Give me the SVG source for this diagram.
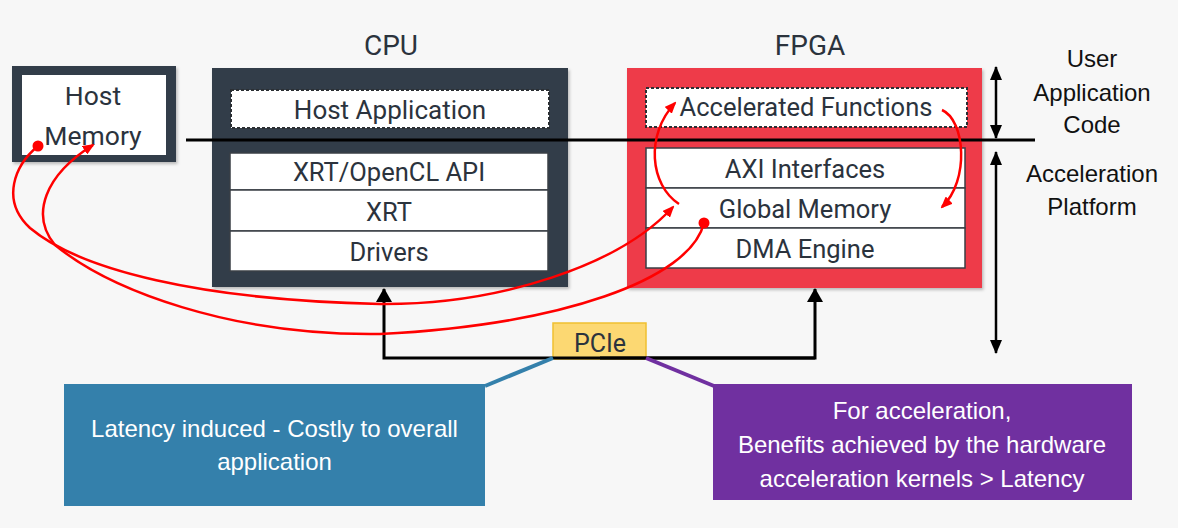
<svg xmlns="http://www.w3.org/2000/svg" width="1178" height="528" viewBox="0 0 1178 528">
<style>
.bg{fill:#f7f7f7}
.lbl{font-family:Roboto,"Liberation Sans",sans-serif;fill:#2b333d;text-anchor:middle}
.cal{font-family:"Liberation Sans",Arial,sans-serif;text-anchor:middle;font-size:24px}
.row{fill:#ffffff;stroke:#3a3f45;stroke-width:1.5}
.dash{fill:#ffffff;stroke:#2b2f33;stroke-width:2;stroke-dasharray:3 2}
.red{fill:none;stroke:#ff0000;stroke-width:2.5}
.blk{fill:none;stroke:#000000;stroke-width:3}
</style>
<defs>
<filter id="sh" x="-5%" y="-5%" width="110%" height="115%">
<feDropShadow dx="1.5" dy="2" stdDeviation="1.5" flood-color="#000" flood-opacity="0.25"/>
</filter>
<marker id="ra" viewBox="0 0 12 10" refX="10" refY="5" markerWidth="12" markerHeight="10" markerUnits="userSpaceOnUse" orient="auto">
<path d="M0,0 L12,5 L0,10 z" fill="#ff0000"/>
</marker>
<marker id="ba" viewBox="0 0 14 16" refX="13" refY="8" markerWidth="14" markerHeight="16" markerUnits="userSpaceOnUse" orient="auto">
<path d="M0,0 L14,8 L0,16 z" fill="#000000"/>
</marker>
<marker id="bas" viewBox="0 0 14 12" refX="13" refY="6" markerWidth="14" markerHeight="12" markerUnits="userSpaceOnUse" orient="auto-start-reverse">
<path d="M0,0 L14,6 L0,12 z" fill="#000000"/>
</marker>
</defs>
<rect class="bg" x="0" y="0" width="1178" height="528"/>

<g id="host-memory">
<rect x="12" y="66" width="164" height="96" fill="#323d48" filter="url(#sh)"/>
<rect x="22" y="75" width="144" height="80" fill="#ffffff"/>
<text class="lbl" x="93" y="105" font-size="26.5" fill="#111">Host</text>
<text class="lbl" x="93" y="145" font-size="26.5" fill="#111">Memory</text>
</g>

<g id="cpu">
<text class="lbl" x="391" y="55" font-size="28">CPU</text>
<rect x="212" y="68" width="356" height="219" fill="#323d48" filter="url(#sh)"/>
<rect class="dash" x="231" y="90" width="318" height="38"/>
<text class="lbl" x="390" y="119" font-size="26">Host Application</text>
<rect class="row" x="230" y="153" width="318" height="37"/>
<text class="lbl" x="389" y="181" font-size="25.5">XRT/OpenCL API</text>
<rect class="row" x="230" y="190" width="318" height="41"/>
<text class="lbl" x="389" y="221" font-size="25.5">XRT</text>
<rect class="row" x="230" y="231" width="318" height="40"/>
<text class="lbl" x="389" y="261" font-size="25.5">Drivers</text>
</g>

<g id="fpga">
<text class="lbl" x="810" y="55" font-size="28">FPGA</text>
<rect x="627" y="68" width="355" height="220" fill="#ee3a4a" filter="url(#sh)"/>
<rect class="dash" x="646" y="88" width="321" height="39"/>
<text class="lbl" x="806" y="116" font-size="25.5">Accelerated Functions</text>
<rect class="row" x="646" y="148" width="319" height="40"/>
<text class="lbl" x="805" y="178" font-size="25.5">AXI Interfaces</text>
<rect class="row" x="646" y="188" width="319" height="40"/>
<text class="lbl" x="805" y="218" font-size="25.5">Global Memory</text>
<rect class="row" x="646" y="228" width="319" height="40"/>
<text class="lbl" x="805" y="258" font-size="25.5">DMA Engine</text>
</g>

<g id="layer-labels">
<text class="cal" x="1092" y="67" fill="#111">User</text>
<text class="cal" x="1092" y="101" fill="#111">Application</text>
<text class="cal" x="1092" y="133" fill="#111">Code</text>
<text class="cal" x="1092" y="182" fill="#111">Acceleration</text>
<text class="cal" x="1092" y="215" fill="#111">Platform</text>
</g>

<g id="pcie">
<rect x="553" y="323" width="93" height="36" fill="#fcd872" stroke="#f0c030" stroke-width="1.5"/>
<text class="lbl" x="600" y="352" font-size="25" fill="#6b5a10">PCIe</text>
</g>

<g id="callout-latency">
<rect x="64" y="384" width="421" height="122" fill="#3480ab"/>
<text class="cal" x="274.5" y="437" fill="#ffffff">Latency induced - Costly to overall</text>
<text class="cal" x="274.5" y="470" fill="#ffffff">application</text>
</g>

<g id="callout-benefit">
<rect x="713" y="384" width="419" height="116" fill="#7030a0"/>
<text class="cal" x="922" y="419" fill="#ffffff">For acceleration,</text>
<text class="cal" x="922" y="453" fill="#ffffff">Benefits achieved by the hardware</text>
<text class="cal" x="922" y="487" fill="#ffffff">acceleration kernels &gt; Latency</text>
</g>

<g id="connectors">
<line class="blk" x1="186" y1="140" x2="1035" y2="140"/>
<line x1="996" y1="67" x2="996" y2="138" stroke="#000" stroke-width="2.5" marker-start="url(#bas)" marker-end="url(#bas)"/>
<line x1="996" y1="152" x2="996" y2="353" stroke="#000" stroke-width="2.5" marker-start="url(#bas)" marker-end="url(#bas)"/>
<path class="blk" d="M815,358 L384,358 L384,289" marker-end="url(#ba)"/>
<path class="blk" d="M600,358 L815,358 L815,289" marker-end="url(#ba)"/>
<line x1="553" y1="358" x2="485" y2="386" stroke="#3480ab" stroke-width="4"/>
<line x1="646" y1="358" x2="714" y2="386" stroke="#7030a0" stroke-width="4"/>
<path class="red" d="M38,146 C15,165 0,200 30,228 C80,270 200,300 380,304 C500,305 620,265 673,207" marker-end="url(#ra)"/>
<path class="red" d="M704,223 C690,280 560,325 380,334 C230,336 110,290 55,245 C30,215 45,175 93,145" marker-end="url(#ra)"/>
<path class="red" d="M679,204 C650,185 645,135 675,103" marker-end="url(#ra)"/>
<path class="red" d="M942,110 C965,120 970,180 942,207" marker-end="url(#ra)"/>
<circle cx="38" cy="146" r="5.5" fill="#ff0000"/>
<circle cx="704" cy="223" r="5.5" fill="#ff0000"/>
</g>
</svg>
